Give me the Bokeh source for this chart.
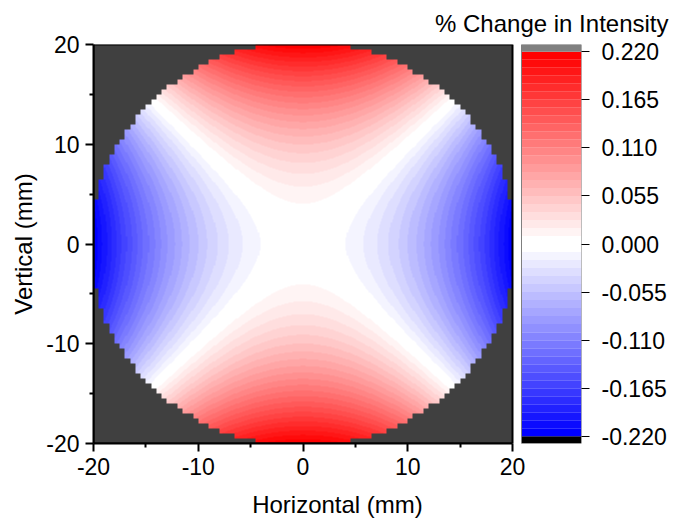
import numpy as np
from bokeh.plotting import figure
from bokeh.models import (LinearColorMapper, Range1d, LinearAxis, FixedTicker,
                          Title, PrintfTickFormatter, ColumnDataSource)
from bokeh.embed import file_html
from bokeh.resources import INLINE

# ---------------- values ----------------
x_ticks = [-20, -10, 0, 10, 20]
x_minor = [-15, -5, 5, 15]
y_ticks = [-20, -10, 0, 10, 20]
y_minor = [-15, -5, 5, 15]
cb_ticks = [-0.220, -0.165, -0.110, -0.055, 0.000, 0.055, 0.110, 0.165, 0.220]
cb_low, cb_high = -0.22, 0.22
n_bands = 48                     # discrete colour levels in the colour bar
aperture_radius_mm = 20.3        # measured extent of the data disc
cell_mm = 0.5                    # size of the data cells at the disc edge
edge_change_vertical = 0.22      # % change at (0, +/-20 mm)
edge_change_horizontal = -0.22   # % change at (+/-20 mm, 0)
ref_radius_mm = 20.0

# ---------------- field (saddle / astigmatic pattern) ----------------
res = 0.1
xs = np.arange(-20 + res / 2, 20, res)
X, Y = np.meshgrid(xs, xs)
field = (edge_change_vertical * (Y / ref_radius_mm) ** 2
         + edge_change_horizontal * (X / ref_radius_mm) ** 2)
CX = (np.floor((X + 20) / cell_mm) + 0.5) * cell_mm - 20
CY = (np.floor((Y + 20) / cell_mm) + 0.5) * cell_mm - 20
inside = CX ** 2 + CY ** 2 <= aperture_radius_mm ** 2
V = np.where(inside, field, np.nan)

# ---------------- palette: blue - white - red ----------------
half = n_bands // 2
palette = []
for i in range(half):
    k = half - 1 - i
    c = int(round(255 * (1 - k / (half - 1))))
    palette.append(f"#{c:02x}{c:02x}ff")
for i in range(half):
    c = int(round(255 * (1 - i / (half - 1))))
    palette.append(f"#ff{c:02x}{c:02x}")

mapper = LinearColorMapper(palette=palette, low=cb_low, high=cb_high,
                           nan_color="rgba(0,0,0,0)",
                           low_color="#000000", high_color="#808080")

# ---------------- layout (pixels) ----------------
ML, MR, MT, MB = 93, 100, 43, 81
frame_w, frame_h = 488, 400
W, H = ML + frame_w + MR, MT + frame_h + MB
heat_w = 419                  # pixels used by the -20..20 mm box
px_per_mm = heat_w / 40.0
x_end = -20 + frame_w / px_per_mm
cb_left = 20 + 9 / px_per_mm
cb_right = x_end

step = (cb_high - cb_low) / n_bands
cb_pad = 0.9 * step

FONT = "Liberation Sans"
TICK_FS = "23px"
LABEL_FS = "24px"

p = figure(width=W, height=H, output_backend="svg", toolbar_location=None,
           x_range=Range1d(-20, x_end), y_range=Range1d(-20, 20),
           x_axis_location=None, y_axis_location=None,
           min_border_left=ML, min_border_right=MR,
           min_border_top=MT, min_border_bottom=MB)
p.outline_line_color = None
p.xgrid.visible = False
p.ygrid.visible = False
p.background_fill_color = "white"
p.border_fill_color = "white"
p.extra_y_ranges = {"cb": Range1d(cb_low - cb_pad, cb_high + cb_pad)}

# colour-bar title
p.add_layout(Title(text="% Change in Intensity", align="right", offset=-87,
                   standoff=15, text_font=FONT, text_font_size=LABEL_FS,
                   text_font_style="normal", text_color="black"), "above")

# heat map
p.quad(left=-20, right=20, bottom=-20, top=20, fill_color="#404040", line_color=None)
p.image(image=[V], x=-20, y=-20, dw=40, dh=40, color_mapper=mapper)
p.quad(left=-20, right=20, bottom=-20, top=20, fill_color=None,
       line_color="black", line_width=2)

# colour bar
edges = np.linspace(cb_low, cb_high, n_bands + 1)
bottoms = [cb_low - cb_pad] + list(edges[:-1]) + [cb_high]
tops = [cb_low] + list(edges[1:]) + [cb_high + cb_pad]
mids = [(b + t) / 2 for b, t in zip(bottoms, tops)]
cb_src = ColumnDataSource(dict(bottom=bottoms, top=tops, mid=mids))
p.quad(left=cb_left, right=cb_right, bottom="bottom", top="top", source=cb_src,
       y_range_name="cb", fill_color={"field": "mid", "transform": mapper},
       line_color=None)
p.quad(left=cb_left, right=cb_right, bottom=cb_low - cb_pad, top=cb_high + cb_pad,
       y_range_name="cb", fill_color=None, line_color="#7f7f7f", line_width=1)

def style(ax, major_out=8, minor_out=4, lw=2):
    ax.major_label_text_font = FONT
    ax.major_label_text_font_size = TICK_FS
    ax.major_label_text_color = "black"
    ax.axis_label_text_font = FONT
    ax.axis_label_text_font_size = LABEL_FS
    ax.axis_label_text_font_style = "normal"
    ax.axis_label_text_color = "black"
    ax.major_tick_in = 0
    ax.major_tick_out = major_out
    ax.minor_tick_in = 0
    ax.minor_tick_out = minor_out
    ax.major_tick_line_width = lw
    ax.minor_tick_line_width = lw
    ax.axis_line_width = lw
    ax.axis_line_color = "black"
    ax.major_tick_line_color = "black"
    ax.minor_tick_line_color = "black"

xax = LinearAxis(axis_label="Horizontal (mm)", bounds=(-20, 20),
                 ticker=FixedTicker(ticks=x_ticks, minor_ticks=x_minor),
                 formatter=PrintfTickFormatter(format="%d"))
style(xax)
xax.major_label_standoff = 6
xax.axis_label_standoff = 13
p.add_layout(xax, "below")

yax = LinearAxis(axis_label="Vertical (mm)",
                 ticker=FixedTicker(ticks=y_ticks, minor_ticks=y_minor),
                 formatter=PrintfTickFormatter(format="%d"))
style(yax)
yax.major_label_standoff = 6
yax.axis_label_standoff = 6
p.add_layout(yax, "left")

cax = LinearAxis(y_range_name="cb", ticker=FixedTicker(ticks=cb_ticks),
                 formatter=PrintfTickFormatter(format="%.3f"))
style(cax, major_out=8, minor_out=0, lw=1)
cax.axis_line_color = None
cax.major_label_standoff = 12
p.add_layout(cax, "right")

open("out.html", "w").write(file_html(p, INLINE))
